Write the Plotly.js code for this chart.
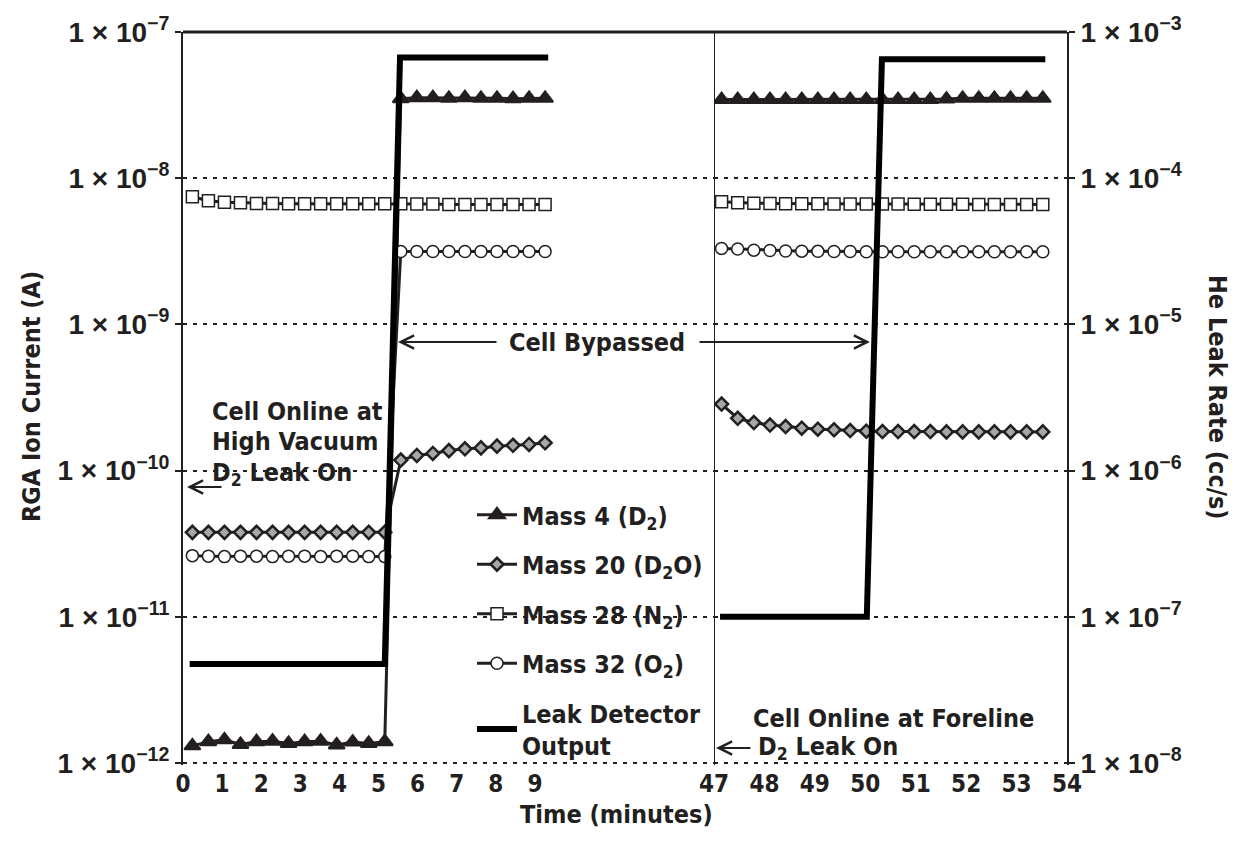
<!DOCTYPE html>
<html>
<head>
<meta charset="utf-8">
<script src="https://cdn.plot.ly/plotly-3.0.1.min.js"></script>
<style>html,body{margin:0;padding:0;background:#ffffff;}#chart{width:1241px;height:852px;}</style>
</head>
<body>
<div id="chart"></div>
<script>
// ---------------- data ----------------
// Period 1: cell online at high vacuum, then bypassed (minutes)
const timeHighVac = [0.24,0.65,1.06,1.47,1.88,2.29,2.70,3.11,3.52,3.93,4.34,4.75,5.16,
                     5.57,5.98,6.39,6.80,7.21,7.62,8.03,8.44,8.85,9.26];
const mass4HighVac  = [1.31e-12,1.40e-12,1.44e-12,1.34e-12,1.40e-12,1.41e-12,1.36e-12,1.40e-12,1.41e-12,1.33e-12,1.39e-12,1.36e-12,1.40e-12,
                       3.50e-8,3.55e-8,3.55e-8,3.52e-8,3.55e-8,3.52e-8,3.52e-8,3.50e-8,3.52e-8,3.52e-8];
const mass20HighVac = [3.78e-11,3.78e-11,3.78e-11,3.78e-11,3.78e-11,3.78e-11,3.78e-11,3.78e-11,3.78e-11,3.78e-11,3.78e-11,3.78e-11,3.78e-11,
                       1.18e-10,1.27e-10,1.31e-10,1.37e-10,1.41e-10,1.43e-10,1.47e-10,1.49e-10,1.51e-10,1.55e-10];
const mass28HighVac = [7.47e-9,7.02e-9,6.85e-9,6.78e-9,6.72e-9,6.72e-9,6.70e-9,6.70e-9,6.70e-9,6.70e-9,6.70e-9,6.70e-9,6.68e-9,
                       6.68e-9,6.66e-9,6.66e-9,6.62e-9,6.62e-9,6.62e-9,6.62e-9,6.62e-9,6.62e-9,6.62e-9];
const mass32HighVac = [2.62e-11,2.60e-11,2.58e-11,2.60e-11,2.60e-11,2.58e-11,2.60e-11,2.60e-11,2.58e-11,2.60e-11,2.60e-11,2.58e-11,2.58e-11,
                       3.15e-9,3.15e-9,3.15e-9,3.15e-9,3.15e-9,3.15e-9,3.15e-9,3.15e-9,3.15e-9,3.15e-9];
const leakTimeHighVac = [0.17,5.16,5.55,9.34];
const leakRateHighVac = [4.75e-8,4.75e-8,6.7e-4,6.7e-4];

// Period 2: cell online at foreline, then bypassed (minutes)
const timeForeline = [47.15,47.47,47.79,48.11,48.42,48.74,49.06,49.38,49.70,50.02,50.34,
                      50.65,50.97,51.29,51.61,51.93,52.25,52.56,52.88,53.20,53.52];
const mass4Foreline  = [3.45e-8,3.45e-8,3.45e-8,3.45e-8,3.45e-8,3.45e-8,3.45e-8,3.45e-8,3.45e-8,3.45e-8,3.45e-8,
                        3.45e-8,3.45e-8,3.45e-8,3.48e-8,3.52e-8,3.52e-8,3.52e-8,3.52e-8,3.52e-8,3.52e-8];
const mass20Foreline = [2.85e-10,2.28e-10,2.13e-10,2.05e-10,2.00e-10,1.95e-10,1.92e-10,1.90e-10,1.88e-10,1.86e-10,1.85e-10,
                        1.85e-10,1.85e-10,1.85e-10,1.84e-10,1.84e-10,1.84e-10,1.84e-10,1.84e-10,1.84e-10,1.84e-10];
const mass28Foreline = [6.91e-9,6.80e-9,6.75e-9,6.72e-9,6.70e-9,6.68e-9,6.68e-9,6.66e-9,6.66e-9,6.65e-9,6.65e-9,
                        6.65e-9,6.64e-9,6.64e-9,6.63e-9,6.63e-9,6.62e-9,6.62e-9,6.62e-9,6.62e-9,6.62e-9];
const mass32Foreline = [3.31e-9,3.28e-9,3.22e-9,3.20e-9,3.18e-9,3.17e-9,3.16e-9,3.15e-9,3.15e-9,3.14e-9,3.14e-9,
                        3.14e-9,3.14e-9,3.14e-9,3.14e-9,3.14e-9,3.14e-9,3.14e-9,3.14e-9,3.14e-9,3.14e-9];
const leakTimeForeline = [47.12,50.03,50.33,53.57];
const leakRateForeline = [1.0e-7,1.0e-7,6.5e-4,6.5e-4];

// series names
const seriesNames = ['Mass 4 (D<sub>2</sub>)','Mass 20 (D<sub>2</sub>O)','Mass 28 (N<sub>2</sub>)','Mass 32 (O<sub>2</sub>)','Leak Detector<br>Output'];

// tick labels
const timeTicksLeft = [0,1,2,3,4,5,6,7,8,9];
const timeTicksRight = [47,48,49,50,51,52,53,54];
const rgaTickVals = [1e-12,1e-11,1e-10,1e-9,1e-8,1e-7];
const rgaTickText = ['1 × 10<sup>−12</sup>','1 × 10<sup>−11</sup>','1 × 10<sup>−10</sup>','1 × 10<sup>−9</sup>','1 × 10<sup>−8</sup>','1 × 10<sup>−7</sup>'];
const heTickVals = [1e-8,1e-7,1e-6,1e-5,1e-4,1e-3];
const heTickText = ['1 × 10<sup>−8</sup>','1 × 10<sup>−7</sup>','1 × 10<sup>−6</sup>','1 × 10<sup>−5</sup>','1 × 10<sup>−4</sup>','1 × 10<sup>−3</sup>'];

// ---------------- styling ----------------
const INK = '#231f20';
const FONT_C = "'DejaVu Sans Condensed', 'Liberation Sans Narrow', 'Roboto Condensed', sans-serif";
const FONT_N = "'Liberation Sans Narrow', 'DejaVu Sans Condensed', sans-serif";
const FONT_A = "'Liberation Sans', Arial, sans-serif";

const styles = [
  {symbol:'triangle-up', size:14, color:INK, lcolor:INK, lw:2},
  {symbol:'diamond', size:10, color:'#a7a7a7', lcolor:INK, lw:2.5},
  {symbol:'square', size:12, color:'#ffffff', lcolor:INK, lw:1.5},
  {symbol:'circle', size:12, color:'#ffffff', lcolor:INK, lw:1.5}
];

function series(i, xs, ys, xa, show) {
  const s = styles[i];
  return {
    type:'scatter', mode:'lines+markers', x:xs, y:ys, xaxis:xa, yaxis:'y',
    name:seriesNames[i], legendgroup:'g'+i, showlegend:show,
    line:{color:INK, width:3},
    marker:{symbol:s.symbol, size:s.size, color:s.color, line:{color:s.lcolor, width:s.lw}},
    hoverinfo:'x+y'
  };
}

const traces = [
  series(0, timeHighVac, mass4HighVac, 'x', true),
  series(0, timeForeline, mass4Foreline, 'x2', false),
  series(1, timeHighVac, mass20HighVac, 'x', true),
  series(1, timeForeline, mass20Foreline, 'x2', false),
  series(2, timeHighVac, mass28HighVac, 'x', true),
  series(2, timeForeline, mass28Foreline, 'x2', false),
  series(3, timeHighVac, mass32HighVac, 'x', true),
  series(3, timeForeline, mass32Foreline, 'x2', false),
  {type:'scatter', mode:'lines', x:leakTimeHighVac, y:leakRateHighVac, xaxis:'x', yaxis:'y3',
   name:seriesNames[4], legendgroup:'g4', showlegend:true, line:{color:'#000', width:6}},
  {type:'scatter', mode:'lines', x:leakTimeForeline, y:leakRateForeline, xaxis:'x2', yaxis:'y2',
   name:seriesNames[4], legendgroup:'g4', showlegend:false, line:{color:'#000', width:6}}
];

// frame geometry (pixels); the y range is padded by a hair at the bottom so the
// 1e-12 dotted grid line is kept by Plotly
const PLOT_L = 183, PLOT_R = 1067, PLOT_T = 32;
const DEC = 146.2, PAD = 0.015;
const PLOT_B = Math.round(763 + DEC * PAD);
const plotW = PLOT_R - PLOT_L, plotH = PLOT_B - PLOT_T;
const split = (714 - PLOT_L) / plotW;   // where the time axis breaks
function logY(py){ return -7 - (py - PLOT_T) / DEC; }
function xLeft(px){ return (px - PLOT_L) / ((714 - PLOT_L) / 13.58); }
function xRight(px){ return 47 + (px - 714) / ((PLOT_R - 714) / 7); }
function paperX(px){ return (px - PLOT_L) / plotW; }
function paperY(py){ return (PLOT_B - py) / plotH; }
const padLog = (PLOT_B - PLOT_T) / DEC - 5;

const txtFont = {family:FONT_C, size:25, color:INK, weight:'bold'};
const ARROW = {showarrow:true, ay:0, arrowhead:5, arrowsize:1.3, arrowwidth:2, arrowcolor:INK, standoff:0, text:''};

const annotations = [
  {xref:'x', yref:'y', x:xLeft(597), y:logY(342), text:'Cell Bypassed', showarrow:false, font:txtFont, xanchor:'center', yanchor:'middle'},
  Object.assign({xref:'x', yref:'y', x:xLeft(398), y:logY(342), ax:100}, ARROW),
  Object.assign({xref:'x2', yref:'y', x:xRight(870), y:logY(342), ax:-172}, ARROW),
  {xref:'x', yref:'y', x:xLeft(210), y:logY(411), text:'Cell Online at', showarrow:false, font:txtFont, xanchor:'left', yanchor:'middle'},
  {xref:'x', yref:'y', x:xLeft(210), y:logY(441), text:'High Vacuum', showarrow:false, font:txtFont, xanchor:'left', yanchor:'middle'},
  {xref:'x', yref:'y', x:xLeft(210), y:logY(474), text:'D<sub>2</sub> Leak On', showarrow:false, font:txtFont, xanchor:'left', yanchor:'middle'},
  Object.assign({xref:'x', yref:'y', x:xLeft(187), y:logY(487), ax:36}, ARROW),
  {xref:'x2', yref:'y', x:xRight(893), y:logY(718), text:'Cell Online at Foreline', showarrow:false, font:txtFont, xanchor:'center', yanchor:'middle'},
  {xref:'x2', yref:'y', x:xRight(756), y:logY(748), text:'D<sub>2</sub> Leak On', showarrow:false, font:txtFont, xanchor:'left', yanchor:'middle'},
  Object.assign({xref:'x2', yref:'y', x:xRight(716), y:logY(748), ax:36}, ARROW),
  {xref:'paper', yref:'paper', x:paperX(32), y:paperY(397), text:'RGA Ion Current (A)', textangle:-90, showarrow:false, font:txtFont, xanchor:'center', yanchor:'middle'},
  {xref:'paper', yref:'paper', x:paperX(1217), y:paperY(397), text:'He Leak Rate (cc/s)', textangle:90, showarrow:false, font:txtFont, xanchor:'center', yanchor:'middle'},
  {xref:'paper', yref:'paper', x:paperX(616), y:paperY(814), text:'Time (minutes)', showarrow:false, font:txtFont, xanchor:'center', yanchor:'middle'}
];

const tickFontY = {family:FONT_A, size:28, color:INK, weight:'bold'};
const tickFontX = {family:FONT_N, size:24, color:INK, weight:'bold'};

const layout = {
  width:1241, height:852,
  margin:{l:PLOT_L, r:1241-PLOT_R, t:PLOT_T, b:852-PLOT_B},
  paper_bgcolor:'#ffffff', plot_bgcolor:'#ffffff',
  showlegend:true,
  legend:{x:paperX(472), y:paperY(492), xanchor:'left', yanchor:'top', font:txtFont,
          bgcolor:'rgba(0,0,0,0)', tracegroupgap:14, itemwidth:40, traceorder:'grouped'},
  xaxis:{domain:[0, split], range:[0,13.58], anchor:'y', tickmode:'array', tickvals:timeTicksLeft,
         ticktext:timeTicksLeft.map(String), showgrid:false, zeroline:false, showline:false, ticks:'', tickfont:tickFontX, ticklabelstandoff:2},
  xaxis2:{domain:[split, 1], range:[47,54], anchor:'y', tickmode:'array', tickvals:timeTicksRight,
         ticktext:timeTicksRight.map(String), showgrid:false, zeroline:false, showline:false, ticks:'', tickfont:tickFontX, ticklabelstandoff:2},
  yaxis:{type:'log', range:[-12 - padLog,-7], anchor:'x', tickmode:'array', tickvals:rgaTickVals, ticktext:rgaTickText,
         showgrid:true, gridcolor:INK, gridwidth:2, griddash:'4px,6px',
         showline:true, linecolor:INK, linewidth:2, ticks:'outside', ticklen:6, tickwidth:2, tickcolor:INK,
         zeroline:false, tickfont:tickFontY},
  yaxis2:{type:'log', range:[-8 - padLog,-3], overlaying:'y', anchor:'x2', side:'right', tickmode:'array', tickvals:heTickVals, ticktext:heTickText,
         showgrid:false, showline:true, linecolor:INK, linewidth:2, ticks:'outside', ticklen:6, tickwidth:2, tickcolor:INK,
         zeroline:false, tickfont:tickFontY},
  yaxis3:{type:'log', range:[-8 - padLog,-3], overlaying:'y', anchor:'x', visible:false, showgrid:false},
  shapes:[
    {type:'line', xref:'paper', yref:'paper', x0:0, x1:1, y0:1, y1:1, line:{color:INK, width:3}},
    {type:'line', xref:'x2', yref:'paper', x0:47, x1:47, y0:0, y1:1, line:{color:INK, width:2}}
  ],
  annotations:annotations
};

Plotly.newPlot('chart', traces, layout, {displayModeBar:false, staticPlot:true});
</script>
</body>
</html>
